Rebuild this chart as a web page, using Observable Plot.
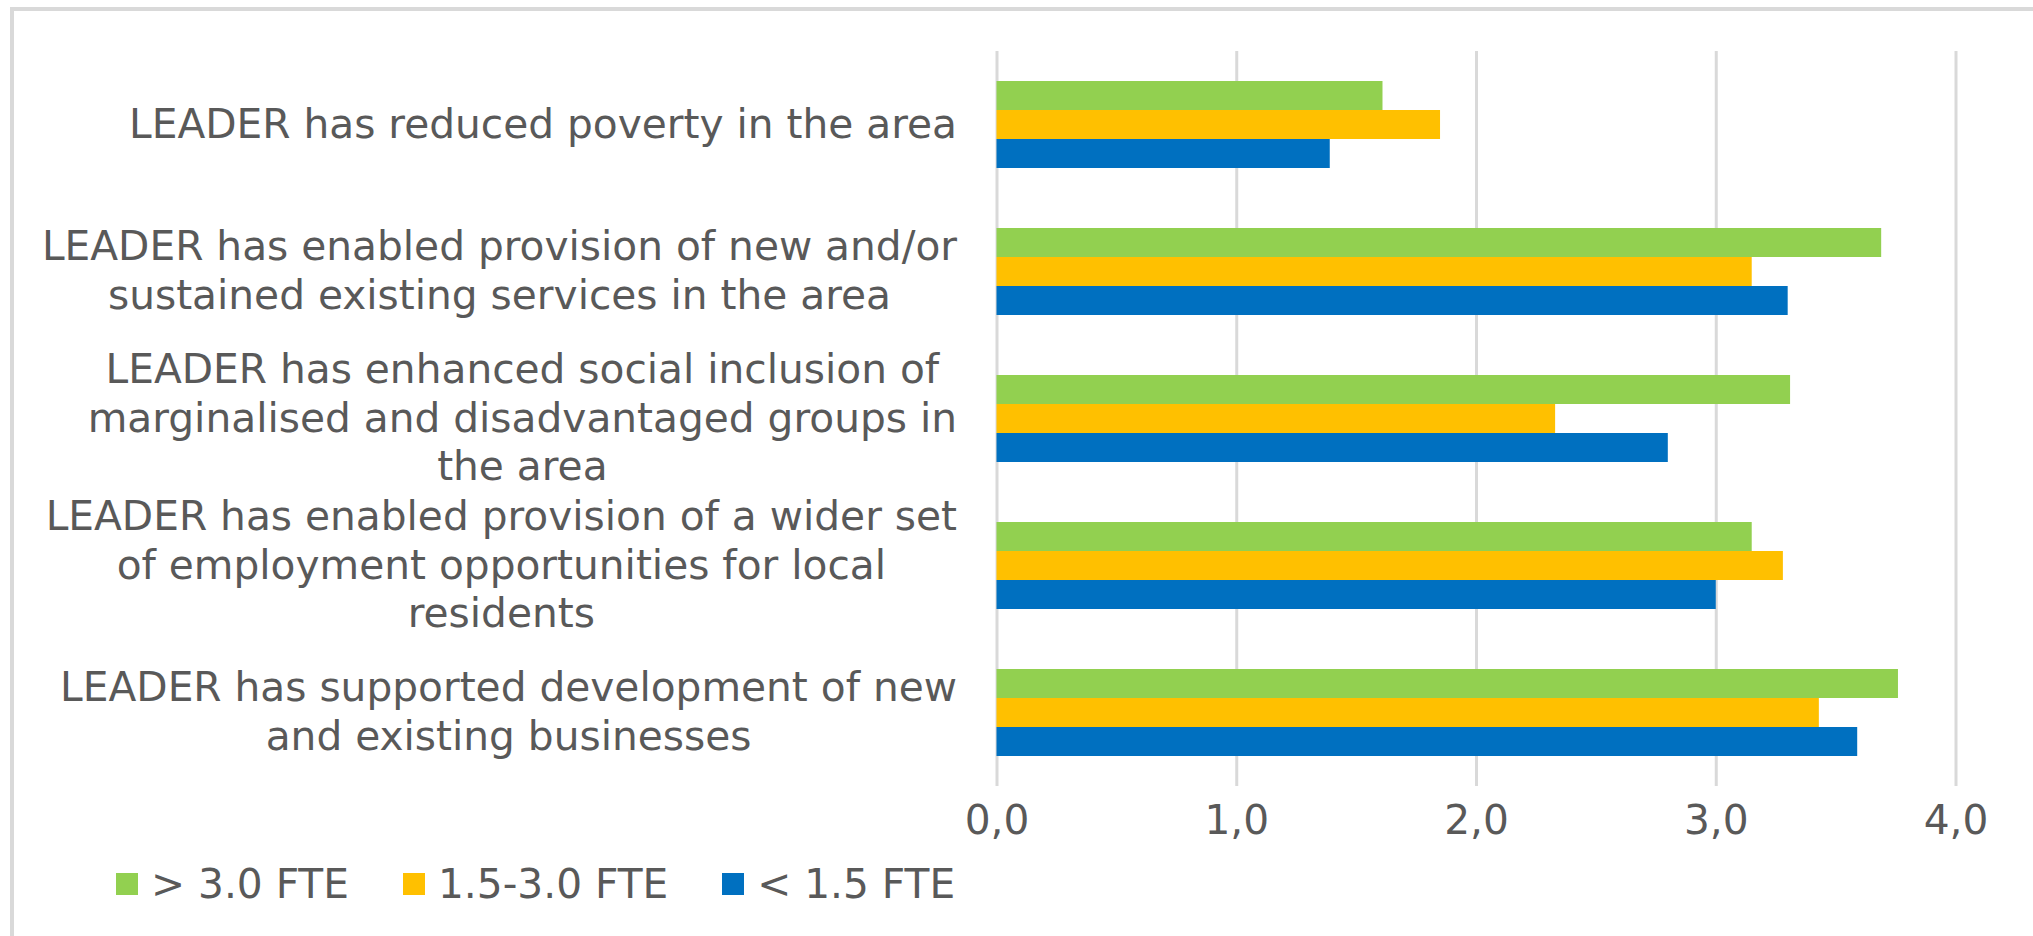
<!DOCTYPE html>
<html><head><meta charset="utf-8">
<script src="https://cdn.jsdelivr.net/npm/d3@7"></script>
<script src="https://cdn.jsdelivr.net/npm/@observablehq/plot@0.6"></script>
<style>
html,body{margin:0;padding:0;background:#fff;overflow:hidden;}
#frame{position:absolute;left:10px;top:7px;width:2200px;height:1100px;border-left:4px solid #d9d9d9;border-top:4px solid #d9d9d9;z-index:0;pointer-events:none}
#chart{position:relative;z-index:1}
#legend{position:relative;z-index:1;margin-left:116px;}
#legend [class*="-swatches"]{font-family:"DejaVu Sans" !important;font-size:40.7px !important;color:#595959 !important;margin:0 !important;min-height:40px !important}
#legend span[class*="-swatch"] > svg{margin-right:13px !important}
#legend span[class*="-swatch"]{margin-right:54px !important}
</style></head><body>
<div id="frame"></div><div id="chart"></div><div id="legend"></div>
<script>
// ---- data ----
const labelLines = [
  ["LEADER has reduced poverty in the area"],
  ["LEADER has enabled provision of new and/or", "sustained existing services in the area"],
  ["LEADER has enhanced social inclusion of", "marginalised and disadvantaged groups in", "the area"],
  ["LEADER has enabled provision of a wider set", "of employment opportunities for local", "residents"],
  ["LEADER has supported development of new", "and existing businesses"]
];
const categories = labelLines.map(l => l.join(" "));
const series = ["> 3.0 FTE", "1.5-3.0 FTE", "< 1.5 FTE"];
const colors = ["#92D050", "#FFC000", "#0070C0"];
const valuesOver3 = [1.61, 3.69, 3.31, 3.15, 3.76];
const values15to3 = [1.85, 3.15, 2.33, 3.28, 3.43];
const valuesUnder15 = [1.39, 3.30, 2.80, 3.00, 3.59];
const xTicks = [0, 1, 2, 3, 4];

const seriesValues = [valuesOver3, values15to3, valuesUnder15];
const table = categories.flatMap((c, i) => series.map((s, j) => ({category: c, series: s, value: seriesValues[j][i]})));

const FONT = "DejaVu Sans";
const FS = 40.7;
const TEXT = "#595959";
const ctx = document.createElement("canvas").getContext("2d");
ctx.font = `${FS}px "${FONT}"`;
const blockWidth = lines => Math.max(...lines.map(t => ctx.measureText(t).width));

const labelMarks = categories.map((c, i) => Plot.text(table, {
  filter: d => d.category === c && d.series === series[0],
  text: d => labelLines[categories.indexOf(d.category)].join("\n"),
  frameAnchor: "left",
  textAnchor: "middle",
  dx: -(40 + blockWidth(labelLines[i]) / 2),
  dy: -3,
  lineHeight: 1.2,
  fontSize: FS,
  fill: TEXT
}));

const plot = Plot.plot({
  width: 2033,
  height: 860,
  marginLeft: 996.5,
  marginRight: 77.5,
  marginTop: 50,
  marginBottom: 73,
  style: {fontFamily: FONT, fontSize: FS + "px", color: TEXT, background: "none", overflow: "visible"},
  facet: {data: table, y: "category"},
  fy: {domain: categories, padding: 0, axis: null},
  y: {domain: series, paddingInner: 0, paddingOuter: 0.957, axis: null},
  x: {domain: [0, 4], ticks: xTicks, tickSize: 0, tickPadding: 19, tickFormat: d => d.toFixed(1).replace(".", ","), label: null},
  color: {domain: series, range: colors},
  marks: [
    Plot.ruleX(xTicks, {stroke: "#d9d9d9", strokeWidth: 3}),
    Plot.barX(table, {y: "series", x: "value", fill: "series"}),
    ...labelMarks
  ]
});
document.getElementById("chart").appendChild(plot);

const legend = Plot.legend({color: {domain: series, range: colors}, swatchSize: 22});
document.getElementById("legend").appendChild(legend);
</script></body></html>
